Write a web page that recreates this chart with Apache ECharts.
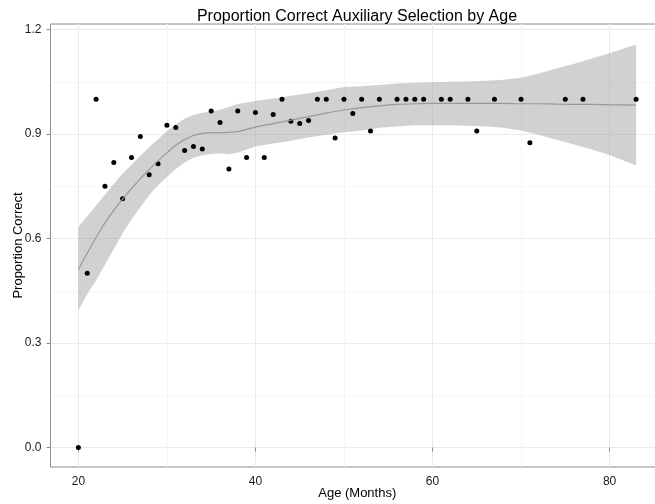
<!DOCTYPE html>
<html>
<head>
<meta charset="utf-8">
<script src="https://cdn.jsdelivr.net/npm/echarts@6/dist/echarts.min.js"></script>
<style>html,body{margin:0;padding:0;background:#fff}#c{width:655px;height:504px}</style>
</head>
<body>
<div id="c"></div>
<script>
// Observed points
var ages = [20,21,22,23,24,25,26,27,28,29,30,31,32,33,34,35,36,37,38,39,40,41,42,43,44,45,46,47,48,49,50,51,52,53,54,56,57,58,59,61,62,64,65,67,70,71,75,77,83];
var propCorrect = [0,0.5,1,0.75,0.818,0.714,0.833,0.893,0.783,0.815,0.925,0.919,0.853,0.864,0.857,0.966,0.933,0.8,0.966,0.833,0.962,0.833,0.956,1,0.937,0.93,0.939,1,1,0.889,1,0.959,1,0.909,1,1,1,1,1,1,1,1,0.909,1,1,0.875,1,1,1];
// Smoothed fit and confidence band
var fitAges = [20,21,22,23,24,25,26,27,28,29,30,31,32,33,34,35,36,37,38,40,42,44,46,48,50,52,54,56,58,60,62,64,66,68,70,72,74,76,78,80,83];
var fitMean = [0.511,0.558,0.603,0.645,0.681,0.713,0.743,0.772,0.798,0.823,0.846,0.868,0.884,0.896,0.902,0.904,0.904,0.905,0.907,0.920,0.930,0.940,0.950,0.960,0.969,0.976,0.981,0.985,0.987,0.988,0.988,0.988,0.988,0.988,0.987,0.987,0.986,0.985,0.985,0.984,0.983];
var fitUpper = [0.633,0.664,0.695,0.726,0.757,0.787,0.812,0.838,0.862,0.885,0.908,0.928,0.944,0.955,0.961,0.965,0.970,0.978,0.986,0.995,1.002,1.010,1.017,1.026,1.035,1.037,1.041,1.045,1.047,1.049,1.050,1.051,1.053,1.056,1.062,1.074,1.088,1.102,1.117,1.132,1.157];
var fitLower = [0.394,0.440,0.480,0.525,0.570,0.615,0.655,0.690,0.725,0.753,0.777,0.800,0.818,0.832,0.839,0.843,0.844,0.842,0.846,0.864,0.873,0.881,0.890,0.898,0.905,0.910,0.918,0.922,0.925,0.925,0.925,0.924,0.922,0.918,0.910,0.898,0.884,0.870,0.856,0.840,0.810];
// Axis ticks
var xTicks = [20,40,60,80];
var xMinor = [30,50,70];
var yTicks = [0,0.3,0.6,0.9,1.2];
var yMinor = [0.15,0.45,0.75,1.05];

var FONT = 'Liberation Sans, Arial, sans-serif';
var X_MIN = 16.85, X_MAX = 86.15, Y_MIN = -0.056, Y_MAX = 1.216;

var pts = ages.map(function(a,i){return [a, propCorrect[i]];});
var meanData = fitAges.map(function(a,i){return [a, fitMean[i]];});
var bandData = fitAges.map(function(a,i){return [a, fitUpper[i], fitLower[i]];});

function renderBand(params, api) {
  if (params.dataIndex !== 0) return null;
  var top = [], bottom = [];
  for (var i = 0; i < fitAges.length; i++) {
    top.push(api.coord([fitAges[i], fitUpper[i]]));
    bottom.push(api.coord([fitAges[i], fitLower[i]]));
  }
  var points = top.concat(bottom.reverse());
  return {
    type: 'polygon',
    shape: {points: points},
    style: {fill: 'rgba(153,153,153,0.45)', stroke: null}
  };
}

var chart = echarts.init(document.getElementById('c'), null, {renderer:'canvas'});
chart.setOption({
  animation: false,
  backgroundColor: '#fff',
  title: {
    text: 'Proportion Correct Auxiliary Selection by Age',
    left: 352, top: 4, textAlign: 'center',
    textStyle: {fontFamily: FONT, fontSize: 16, fontWeight: 'normal', color: '#000'}
  },
  grid: {left: 50.5, right: -9, top: 24, bottom: 37, containLabel: false, outerBoundsMode: 'none', show: true, borderColor: '#8c8c8c', borderWidth: 1, backgroundColor: 'transparent'},
  xAxis: [{
    type: 'value', min: X_MIN, max: X_MAX, position: 'bottom',
    name: 'Age (Months)', nameLocation: 'middle', nameGap: 20, nameMoveOverlap: false,
    nameTextStyle: {fontFamily: FONT, fontSize: 13, color: '#000'},
    axisLine: {show: false},
    axisTick: {show: true, length: 4, customValues: xTicks, lineStyle: {color: '#8c8c8c'}},
    axisLabel: {customValues: xTicks, margin: 9, fontFamily: FONT, fontSize: 12, color: '#1a1a1a', formatter: function(v){return String(Math.round(v));}},
    splitLine: {show: true, lineStyle: {color: '#ebebeb', width: 1}}
  },{
    type: 'value', min: X_MIN, max: X_MAX, position: 'top',
    axisLine: {show: false}, axisLabel: {show: false},
    axisTick: {show: false, customValues: xMinor},
    splitLine: {show: true, lineStyle: {color: '#f5f5f5', width: 1}}
  }],
  yAxis: [{
    type: 'value', min: Y_MIN, max: Y_MAX, position: 'left',
    name: 'Proportion Correct', nameLocation: 'middle', nameGap: 26, nameMoveOverlap: false,
    nameTextStyle: {fontFamily: FONT, fontSize: 13, color: '#000'},
    axisLine: {show: false},
    axisTick: {show: true, length: 4, customValues: yTicks, lineStyle: {color: '#8c8c8c'}},
    axisLabel: {customValues: yTicks, margin: 9, fontFamily: FONT, fontSize: 12, color: '#1a1a1a', formatter: function(v){return v.toFixed(1);}},
    splitLine: {show: true, lineStyle: {color: '#ebebeb', width: 1}}
  },{
    type: 'value', min: Y_MIN, max: Y_MAX, position: 'right',
    axisLine: {show: false}, axisLabel: {show: false},
    axisTick: {show: false, customValues: yMinor},
    splitLine: {show: true, lineStyle: {color: '#f5f5f5', width: 1}}
  }],
  series: [
    {type: 'scatter', data: pts, symbolSize: 5, itemStyle: {color: '#000', opacity: 1}, xAxisIndex: 0, yAxisIndex: 0},
    {type: 'custom', data: bandData, renderItem: renderBand, encode: {x: 0, y: [1, 2]}, silent: true, xAxisIndex: 0, yAxisIndex: 0},
    {type: 'line', data: meanData, showSymbol: false, symbol: 'none', smooth: 0.3, lineStyle: {color: '#999', width: 1.2}, xAxisIndex: 0, yAxisIndex: 0}
  ]
});
</script>
</body>
</html>
